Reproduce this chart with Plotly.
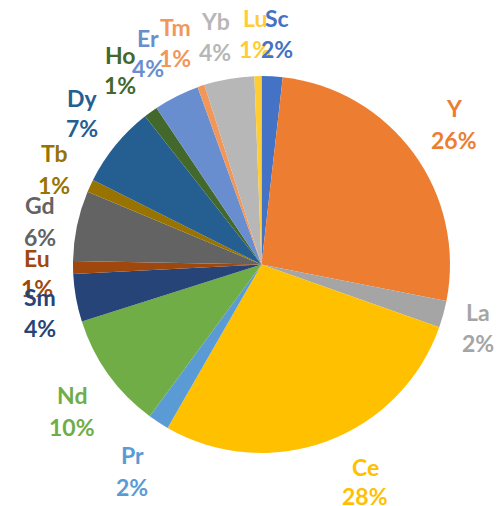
import plotly.graph_objects as go

# Rare earth element shares (%)
elements = ["Sc", "Y", "La", "Ce", "Pr", "Nd", "Sm", "Eu",
            "Gd", "Tb", "Dy", "Ho", "Er", "Tm", "Yb", "Lu"]
shares = [1.8, 26.3, 2.3, 27.9, 1.8, 10.0, 4.1, 1.1,
          6.0, 1.1, 7.0, 1.2, 3.9, 0.6, 4.3, 0.6]

colors = ["#4472C4", "#ED7D31", "#A5A5A5", "#FFC000", "#5B9BD5", "#70AD47",
          "#264478", "#9E480E", "#636363", "#997300", "#255E91", "#43682B",
          "#698ED0", "#F1975A", "#B7B7B7", "#FFCD33"]

W, H = 499, 506
# pie centre and radius in pixels
cx, cy, r = 261.5, 264.5, 188.5

# label anchor points (pixels): name line y, percent line y
label_x = [277, 454, 478, 365, 132, 72, 40, 37, 40, 54, 82, 120, 148, 175, 215, 255]
name_y = [18, 108, 312, 467, 455, 395, 297, 258, 205, 153, 98, 55, 38, 27, 21, 18]
pct_y = [49, 140, 343, 496, 487, 427, 328, 288, 237, 185, 128, 85, 68, 58, 52, 49]

fig = go.Figure(go.Pie(
    labels=elements,
    values=shares,
    sort=False,
    direction="clockwise",
    rotation=0,
    marker=dict(colors=colors, line=dict(width=0)),
    textinfo="none",
    hoverinfo="label+percent",
    domain=dict(x=[(cx - r) / W, (cx + r) / W],
                y=[1 - (cy + r) / H, 1 - (cy - r) / H]),
    showlegend=False,
))

total = sum(shares)
annotations = []
for i in reversed(range(len(elements))):
    pct = f"{round(shares[i] / total * 100)}%"
    for txt, py in ((elements[i], name_y[i]), (pct, pct_y[i])):
        annotations.append(dict(
            text=f"<b>{txt}</b>", x=label_x[i] / W, y=1 - py / H,
            xref="paper", yref="paper", xanchor="center", yanchor="middle",
            showarrow=False, font=dict(family="Lato", size=23, color=colors[i]),
        ))

fig.update_layout(
    width=W, height=H,
    margin=dict(l=0, r=0, t=0, b=0),
    paper_bgcolor="white",
    plot_bgcolor="white",
    annotations=annotations,
)

fig.write_html("out.html")
